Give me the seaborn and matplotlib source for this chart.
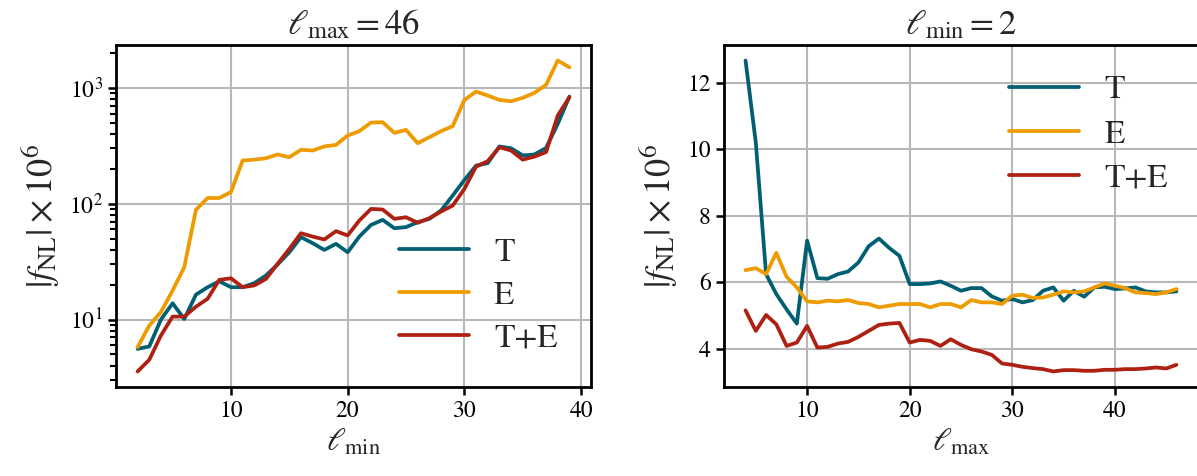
import numpy as np
import pandas as pd
import matplotlib
matplotlib.use("Agg")
import matplotlib.pyplot as plt
import seaborn as sns

# ---------------- data ----------------
lmin = list(range(2, 40))
left_T = [5.58, 5.85, 10.0, 13.8, 10.1, 16.4, 19.0, 21.4, 19.0, 19.0,
          20.6, 24.0, 29.9, 38.1, 51.4, 45.6, 39.9, 45.0, 38.1, 52.0,
          65.6, 72.5, 61.4, 62.8, 69.2, 74.0, 87.3, 117.6, 160.0, 213.0,
          224.0, 312.0, 301.0, 261.0, 266.0, 303.0, 489.0, 841.0]
left_E = [5.77, 8.87, 11.6, 17.8, 28.3, 88.5, 112.0, 112.0, 126.0, 236.0,
          240.0, 247.0, 266.0, 252.0, 292.0, 288.0, 312.0, 322.0, 388.0, 423.0,
          502.0, 505.0, 409.0, 434.0, 333.0, 375.0, 423.0, 467.0, 787.0, 929.0,
          859.0, 787.0, 767.0, 820.0, 905.0, 1062.0, 1722.0, 1507.0]
left_TE = [3.56, 4.49, 7.28, 10.6, 10.6, 12.9, 15.1, 22.0, 22.7, 19.0,
           19.7, 22.4, 30.3, 40.7, 55.6, 52.0, 49.1, 57.9, 53.2, 71.6,
           90.2, 89.0, 74.0, 76.4, 68.4, 75.0, 85.5, 96.4, 134.0, 209.0,
           233.0, 307.0, 288.0, 240.0, 255.0, 279.0, 577.0, 830.0]

lmax = list(range(4, 47))
right_T = [12.67, 10.2, 6.24, 5.64, 5.18, 4.75, 7.25, 6.12, 6.10, 6.24,
           6.32, 6.59, 7.08, 7.31, 7.03, 6.79, 5.94, 5.94, 5.96, 6.02,
           5.89, 5.74, 5.82, 5.82, 5.57, 5.44, 5.49, 5.39, 5.46, 5.74,
           5.84, 5.44, 5.74, 5.56, 5.84, 5.86, 5.79, 5.81, 5.84, 5.72,
           5.69, 5.69, 5.72]
right_E = [6.36, 6.42, 6.24, 6.88, 6.16, 5.84, 5.42, 5.39, 5.44, 5.42,
           5.46, 5.37, 5.34, 5.24, 5.29, 5.34, 5.34, 5.34, 5.24, 5.34,
           5.34, 5.24, 5.46, 5.39, 5.39, 5.34, 5.59, 5.62, 5.52, 5.54,
           5.62, 5.72, 5.69, 5.72, 5.84, 5.96, 5.89, 5.82, 5.69, 5.67,
           5.64, 5.69, 5.79]
right_TE = [5.15, 4.53, 5.01, 4.73, 4.08, 4.18, 4.68, 4.03, 4.05, 4.15,
            4.20, 4.35, 4.53, 4.71, 4.75, 4.77, 4.18, 4.26, 4.23, 4.08,
            4.28, 4.11, 3.98, 3.91, 3.81, 3.55, 3.51, 3.45, 3.41, 3.38,
            3.31, 3.35, 3.35, 3.33, 3.33, 3.36, 3.36, 3.38, 3.38, 3.40,
            3.43, 3.40, 3.51]

series_names = ["T", "E", "T+E"]
colors = ["#005f73", "#ee9b00", "#ae2012"]

# ---------------- style ----------------
sns.set_theme(style="ticks")
plt.rcParams.update({
    "font.family": ["STIXGeneral", "DejaVu Serif"],
    "mathtext.fontset": "stix",
    "axes.edgecolor": "black",
    "axes.linewidth": 2.0,
    "xtick.color": "black",
    "ytick.color": "black",
    "xtick.major.width": 1.8,
    "ytick.major.width": 1.8,
    "xtick.minor.width": 1.5,
    "ytick.minor.width": 1.5,
    "xtick.major.size": 6,
    "ytick.major.size": 6,
    "ytick.minor.size": 4,
    "grid.color": "#b8b8b8",
    "grid.linewidth": 1.5,
})

def long_df(x, ys):
    frames = []
    for name, y in zip(series_names, ys):
        frames.append(pd.DataFrame({"x": x, "y": y, "series": name}))
    return pd.concat(frames, ignore_index=True)

df_left = long_df(lmin, [left_T, left_E, left_TE])
df_right = long_df(lmax, [right_T, right_E, right_TE])

W, H = 1197, 476
fig = plt.figure(figsize=(W / 100, H / 100), dpi=100)
ax1 = fig.add_axes([116 / W, 89 / H, 475 / W, 342 / H])
ax2 = fig.add_axes([724 / W, 89 / H, 474 / W, 342 / H])

pal = dict(zip(series_names, colors))
for ax, df in [(ax1, df_left), (ax2, df_right)]:
    sns.lineplot(data=df, x="x", y="y", hue="series", hue_order=series_names,
                 palette=pal, linewidth=2.7, ax=ax, legend=True)
    ax.grid(True, which="major")
    ax.set_axisbelow(True)
    ax.tick_params(axis="both", which="major", labelsize=17, direction="out")

ax1.set_yscale("log")
ax1.set_xticks([10, 20, 30, 40])
ax2.set_xticks([10, 20, 30, 40])
ax2.set_yticks([4, 6, 8, 10, 12])

ax1.set_title(r"$\ell_{\rm max} = 46$", fontsize=25, pad=8)
ax2.set_title(r"$\ell_{\rm min} = 2$", fontsize=25, pad=8)
ax1.set_xlabel(r"$\ell_{\rm min}$", fontsize=23)
ax2.set_xlabel(r"$\ell_{\rm max}$", fontsize=23)
ylab = r"$|f_{\rm NL}| \times 10^6$"
ax1.set_ylabel(ylab, fontsize=26, labelpad=6)
ax2.set_ylabel(ylab, fontsize=26, labelpad=6)

h1, l1 = ax1.get_legend_handles_labels()
ax1.legend(h1, l1, loc="lower right", frameon=False, fontsize=24,
           handlelength=2.1, handletextpad=0.75, labelspacing=0.38,
           borderaxespad=0.6)
h2, l2 = ax2.get_legend_handles_labels()
ax2.legend(h2, l2, loc="upper right", frameon=False, fontsize=24,
           handlelength=2.1, handletextpad=0.75, labelspacing=0.42,
           borderaxespad=0.5)

fig.savefig("out.png", dpi=100)
